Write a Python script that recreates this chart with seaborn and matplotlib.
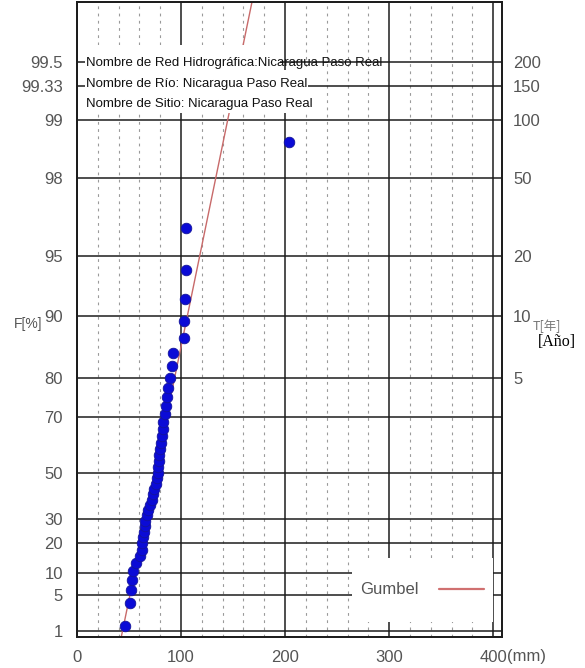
import numpy as np
import pandas as pd
import matplotlib
matplotlib.use("Agg")
import matplotlib.pyplot as plt
import seaborn as sns
from matplotlib.patches import Rectangle
from matplotlib.lines import Line2D
from matplotlib.ticker import MultipleLocator
from matplotlib import font_manager

# ---------------- data ----------------
rainfall_mm = [46.2, 51.2, 51.5, 53.0, 54.2, 57.0, 61.0, 62.0, 62.5, 63.5,
               64.5, 65.2, 65.8, 67.0, 68.6, 70.2, 71.8, 73.4, 74.3, 75.7,
               76.6, 77.6, 78.2, 78.8, 79.2, 79.8, 80.8, 81.4, 82.4, 83.0,
               84.6, 85.6, 86.9, 87.8, 89.4, 91.0, 92.0, 102.5, 103.2, 103.5,
               104.5, 105.0, 204.0]
prob_pct = [1.30, 3.62, 5.94, 8.26, 10.58, 12.89, 15.21, 17.53, 19.85, 22.17,
            24.49, 26.81, 29.13, 31.45, 33.77, 36.09, 38.40, 40.72, 43.04, 45.36,
            47.68, 50.00, 52.32, 54.64, 56.96, 59.28, 61.60, 63.91, 66.23, 68.55,
            70.87, 73.19, 75.51, 77.83, 80.15, 82.47, 84.79, 87.11, 89.42, 91.74,
            94.06, 96.38, 98.70]
gumbel_u = 69.0       # location (mm)
gumbel_alpha = 16.5   # scale (mm)

F_ticks = [1, 5, 10, 20, 30, 50, 70, 80, 90, 95, 98, 99, 99.33, 99.5]
F_labels = ["1", "5", "10", "20", "30", "50", "70", "80", "90", "95", "98", "99", "99.33", "99.5"]
T_ticks = [5, 10, 20, 50, 100, 150, 200]
T_labels = ["5", "10", "20", "50", "100", "150", "200"]
x_ticks = [0, 100, 200, 300, 400]
x_labels = ["0", "100", "200", "300", "400"]
title_lines = ["Nombre de Red Hidrográfica:Nicaragua Paso Real",
               "Nombre de Río: Nicaragua Paso Real",
               "Nombre de Sitio: Nicaragua Paso Real"]


def red(F):
    return -np.log(-np.log(np.asarray(F, dtype=float)))


avail = {f.name for f in font_manager.fontManager.ttflist}
narrow = "Liberation Sans Narrow" if "Liberation Sans Narrow" in avail else "Liberation Sans"

sns.set_style("white")
plt.rcParams["font.family"] = [narrow, "DejaVu Sans"]

W, H = 585, 668
fig = plt.figure(figsize=(W / 100, H / 100), dpi=100)
L, R, T, B = 77, 502, 2, 637
ax = fig.add_axes([L / W, 1 - B / H, (R - L) / W, (B - T) / H])

ylo, yhi = -1.603, 6.011
tick_col = "#555555"
grid_col = "#1c1c1c"

df_pts = pd.DataFrame({"mm": rainfall_mm, "y": red(np.array(prob_pct) / 100)})
yy = np.array([ylo, yhi])
df_line = pd.DataFrame({"mm": gumbel_u + gumbel_alpha * yy, "y": yy})

sns.lineplot(data=df_line, x="mm", y="y", ax=ax, color="#c86a6a", lw=1.0,
             sort=False, estimator=None, zorder=2)
sns.scatterplot(data=df_pts, x="mm", y="y", ax=ax, s=58, color="#0b0bd6",
                edgecolor="#14149a", linewidth=0.6, zorder=3)

ax.set_xlim(0, 408.5)
ax.set_ylim(ylo, yhi)
ax.set_xticks(x_ticks)
ax.set_xticklabels(x_labels)
ax.xaxis.set_minor_locator(MultipleLocator(20))
ax.set_yticks(red(np.array(F_ticks) / 100))
ax.set_yticklabels(F_labels)
ax.set_axisbelow(True)
ax.grid(which="major", color=grid_col, lw=1.1, ls="-")
ax.grid(which="minor", axis="x", color="#9a9a9a", lw=0.8, ls=(0, (2.5, 4)))
ax.tick_params(which="both", length=0, labelcolor=tick_col, labelsize=12)
ax.tick_params(axis="y", pad=10)
ax.tick_params(axis="x", pad=9)
ax.set_xlabel("")
ax.set_ylabel("")
for sp in ax.spines.values():
    sp.set_color(grid_col)
    sp.set_linewidth(1.3)

ax2 = ax.twinx()
ax2.set_ylim(ylo, yhi)
ax2.set_yticks(red(1 - 1 / np.array(T_ticks, dtype=float)))
ax2.set_yticklabels(T_labels)
ax2.tick_params(length=0, pad=8, labelcolor=tick_col, labelsize=12)
ax2.grid(False)
for sp in ax2.spines.values():
    sp.set_color(grid_col)
    sp.set_linewidth(1.3)

def fx(px):
    return (px - L) / (R - L)

def fy(py):
    return (B - py) / (B - T)

# white box behind the title lines
ax.add_patch(Rectangle((fx(85), fy(70)), fx(280) - fx(85), fy(45) - fy(70),
                       transform=ax.transAxes, facecolor="white", edgecolor="none", zorder=2.5))
ax.add_patch(Rectangle((fx(85), fy(113)), fx(308) - fx(85), fy(70) - fy(113),
                       transform=ax.transAxes, facecolor="white", edgecolor="none", zorder=2.5))
for txt, base in zip(title_lines, [66, 87, 107]):
    ax.text(fx(86), fy(base), txt, transform=ax.transAxes, fontsize=9.5,
            family="Liberation Sans", color="#111111", va="baseline", ha="left", zorder=4)

# legend
ax.add_patch(Rectangle((fx(352), fy(622)), fx(493) - fx(352), fy(558) - fy(622),
                       transform=ax.transAxes, facecolor="white", edgecolor="none", zorder=2.5))
leg = ax.legend(handles=[Line2D([], [], color="#d07070", lw=1.6)], labels=["Gumbel"],
                markerfirst=False, frameon=False, loc="center",
                bbox_to_anchor=(fx(422), fy(590)), handlelength=2.7, handletextpad=1.2,
                fontsize=12, labelcolor=tick_col)
leg.set_zorder(5)

fig.text(14 / W, 1 - 324 / H, "F[%]", ha="left", va="center", color=tick_col, fontsize=10)
fig.text(533 / W, 1 - 326 / H, "T[年]", ha="left", va="center", color="#777777", fontsize=9,
         family=["Noto Sans CJK JP", "DejaVu Sans"])
fig.text(538 / W, 1 - 342 / H, "[Año]", ha="left", va="center", color="black", fontsize=11.5,
         family="Liberation Serif", bbox=dict(facecolor="white", edgecolor="none", pad=0.5))
fig.text(507 / W, 1 - 657 / H, "(mm)", ha="left", va="center", color=tick_col, fontsize=12)

fig.savefig("out.png", dpi=100)
